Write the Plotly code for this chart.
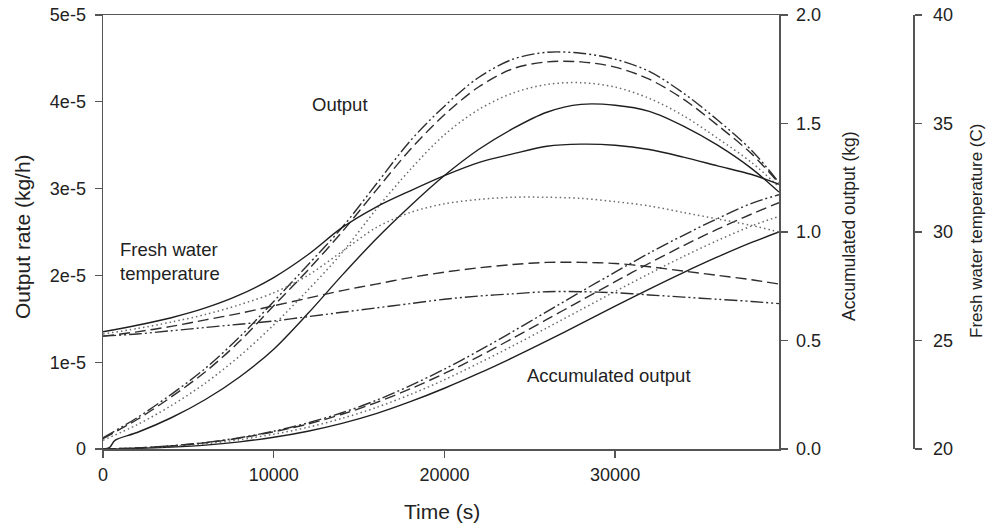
import plotly.graph_objects as go

# ---------------- data ----------------
# time grid (s)
TIME = [0, 2000, 4000, 6000, 8000, 10000, 12000, 14000, 16000, 18000, 20000,
        22000, 24000, 26000, 28000, 30000, 32000, 34000, 36000, 38000, 39600]
TIME_SOLID_OUT = [0, 400, 700, 2000, 4000, 6000, 8000, 10000, 12000, 14000, 16000, 18000,
                  20000, 22000, 24000, 26000, 28000, 30000, 32000, 34000, 36000, 38000, 39600]

# output rate, in units of 1e-5 (kg/h)
OUT_SOLID = [0.0, 0.02, 0.10, 0.19, 0.36, 0.57, 0.83, 1.15, 1.56, 2.00, 2.42, 2.80,
             3.15, 3.45, 3.69, 3.88, 3.97, 3.96, 3.89, 3.72, 3.50, 3.23, 2.96]
OUT_DOTTED = [0.10, 0.28, 0.50, 0.76, 1.07, 1.43, 1.83, 2.26, 2.76, 3.22, 3.62,
              3.91, 4.10, 4.20, 4.22, 4.17, 4.04, 3.84, 3.58, 3.30, 3.02]
OUT_DASHED = [0.12, 0.34, 0.60, 0.89, 1.24, 1.65, 2.06, 2.50, 2.98, 3.45, 3.85,
              4.17, 4.38, 4.46, 4.46, 4.40, 4.26, 4.03, 3.73, 3.40, 3.06]
OUT_DASHDOT = [0.13, 0.36, 0.63, 0.93, 1.29, 1.70, 2.12, 2.55, 3.05, 3.55, 3.95,
               4.28, 4.49, 4.57, 4.56, 4.49, 4.35, 4.10, 3.79, 3.44, 3.07]

# fresh water temperature (C)
TEMP_SOLID = [25.4, 25.7, 26.05, 26.5, 27.1, 27.9, 28.95, 30.2, 31.15, 31.9, 32.6,
              33.2, 33.6, 33.95, 34.05, 34.0, 33.8, 33.45, 33.05, 32.65, 32.2]
TEMP_DOTTED = [25.3, 25.55, 25.85, 26.2, 26.65, 27.2, 28.0, 29.1, 30.2, 30.9, 31.3,
               31.5, 31.6, 31.6, 31.55, 31.4, 31.2, 30.9, 30.6, 30.3, 30.0]
TEMP_DASHED = [25.2, 25.4, 25.65, 25.95, 26.25, 26.6, 26.95, 27.3, 27.6, 27.9, 28.15,
               28.35, 28.5, 28.6, 28.6, 28.55, 28.4, 28.2, 28.0, 27.8, 27.6]
TEMP_DASHDOT = [25.2, 25.3, 25.45, 25.6, 25.75, 25.9, 26.1, 26.3, 26.5, 26.7, 26.9,
                27.05, 27.15, 27.25, 27.25, 27.2, 27.1, 27.0, 26.9, 26.8, 26.7]

# accumulated output (kg)
ACC_SOLID = [0, 0.003, 0.009, 0.018, 0.033, 0.054, 0.082, 0.118, 0.163, 0.218, 0.28,
             0.348, 0.421, 0.498, 0.578, 0.658, 0.737, 0.813, 0.885, 0.952, 1.0]
ACC_DOTTED = [0, 0.004, 0.012, 0.024, 0.043, 0.068, 0.1, 0.141, 0.191, 0.251, 0.319,
              0.395, 0.475, 0.558, 0.642, 0.726, 0.808, 0.887, 0.961, 1.028, 1.072]
ACC_DASHED = [0, 0.005, 0.014, 0.029, 0.05, 0.079, 0.115, 0.16, 0.214, 0.277, 0.348,
              0.426, 0.51, 0.597, 0.684, 0.771, 0.856, 0.937, 1.013, 1.083, 1.135]
ACC_DASHDOT = [0, 0.005, 0.015, 0.03, 0.052, 0.082, 0.12, 0.167, 0.224, 0.292, 0.368,
               0.452, 0.541, 0.633, 0.725, 0.815, 0.903, 0.985, 1.062, 1.132, 1.172]

X_TICKS = [0, 10000, 20000, 30000]
X_LABELS = ["0", "10000", "20000", "30000"]
Y1_TICKS = [0, 1e-5, 2e-5, 3e-5, 4e-5, 5e-5]
Y1_LABELS = ["0", "1e-5", "2e-5", "3e-5", "4e-5", "5e-5"]
Y2_TICKS = [0, 0.5, 1.0, 1.5, 2.0]
Y2_LABELS = ["0.0", "0.5", "1.0", "1.5", "2.0"]
Y3_TICKS = [20, 25, 30, 35, 40]
Y3_LABELS = ["20", "25", "30", "35", "40"]
OUT_UNIT = 1e-5

# ---------------- styling ----------------
W, H = 988, 524
PL, PR, PT, PB = 103, 779, 15, 449
AX = "#555555"
FONT = "Liberation Sans, Arial, sans-serif"


def px(x):
    return x / W


def py(y):
    return 1 - y / H


STY = {
    "solid": dict(dash="solid", color="#1e1e1e", width=1.4),
    "dotted": dict(dash="1.5px,3px", color="#6a6a6a", width=1.5),
    "dashed": dict(dash="11px,5px", color="#2e2e2e", width=1.4),
    "dashdot": dict(dash="13px,3px,2px,3px,2px,3px", color="#2e2e2e", width=1.4),
}

fig = go.Figure()


def add(x, y, sty, axis):
    fig.add_trace(go.Scatter(x=x, y=y, mode="lines", yaxis=axis,
                             line=dict(shape="spline", smoothing=0.9, **STY[sty]),
                             hoverinfo="skip"))


add(TIME_SOLID_OUT, [v * OUT_UNIT for v in OUT_SOLID], "solid", "y")
add(TIME, [v * OUT_UNIT for v in OUT_DOTTED], "dotted", "y")
add(TIME, [v * OUT_UNIT for v in OUT_DASHED], "dashed", "y")
add(TIME, [v * OUT_UNIT for v in OUT_DASHDOT], "dashdot", "y")

add(TIME, TEMP_SOLID, "solid", "y3")
add(TIME, TEMP_DOTTED, "dotted", "y3")
add(TIME, TEMP_DASHED, "dashed", "y3")
add(TIME, TEMP_DASHDOT, "dashdot", "y3")

add(TIME, ACC_SOLID, "solid", "y2")
add(TIME, ACC_DOTTED, "dotted", "y2")
add(TIME, ACC_DASHED, "dashed", "y2")
add(TIME, ACC_DASHDOT, "dashdot", "y2")

ydom = [1 - PB / H, 1 - PT / H]
common = dict(showgrid=False, zeroline=False, showline=True, linecolor=AX, linewidth=1.5,
              ticks="outside", ticklen=7, tickwidth=1.3, tickcolor=AX, automargin=False,
              ticklabeloverflow="allow",
              tickfont=dict(size=18, family=FONT, color="#222"))

fig.update_layout(
    template="none",
    width=W, height=H, margin=dict(l=0, r=0, t=0, b=0, pad=0), autosize=False,
    plot_bgcolor="white", paper_bgcolor="white", showlegend=False,
    font=dict(family=FONT, color="#222"),
    xaxis=dict(domain=[PL / W, PR / W], range=[0, 39600], tickvals=X_TICKS, ticktext=X_LABELS,
               mirror=True, ticklabelstandoff=2, **common),
    yaxis=dict(domain=ydom, range=[0, 5e-5], tickvals=Y1_TICKS, ticktext=Y1_LABELS,
               ticklabelstandoff=5, **common),
    yaxis2=dict(overlaying="y", side="right", anchor="x", range=[0, 2],
                tickvals=Y2_TICKS, ticktext=Y2_LABELS, ticklabelstandoff=5, **common),
    yaxis3=dict(overlaying="y", side="right", anchor="free", position=913 / W,
                range=[20, 40], tickvals=Y3_TICKS, ticktext=Y3_LABELS,
                ticklabelstandoff=8, **common),
)

ann = [
    dict(text="Output rate (kg/h)", x=22, y=237, textangle=-90, size=21),
    dict(text="Time (s)", x=442, y=511, textangle=0, size=21),
    dict(text="Accumulated output (kg)", x=849, y=226, textangle=-90, size=17.5),
    dict(text="Fresh water temperature (C)", x=976, y=231, textangle=-90, size=17),
]
for a in ann:
    fig.add_annotation(text=a["text"], x=px(a["x"]), y=py(a["y"]), xref="paper", yref="paper",
                       xanchor="center", yanchor="middle", textangle=a["textangle"],
                       showarrow=False, font=dict(size=a["size"], family=FONT, color="#222"))

labels = [
    dict(text="Output", x=310, y=104),
    dict(text="Fresh water<br>temperature", x=118, y=261),
    dict(text="Accumulated output", x=525, y=375),
]
for a in labels:
    fig.add_annotation(text=a["text"], x=px(a["x"]), y=py(a["y"]), xref="paper", yref="paper",
                       xanchor="left", yanchor="middle", align="left", showarrow=False,
                       font=dict(size=18.5, family=FONT, color="#222"))

# remove the page's default 8px body margin so the figure fills the window exactly
fig.write_html("out.html",
               config={"displayModeBar": False, "staticPlot": True},
               post_script="document.body.style.margin='0';"
                           "document.body.style.padding='0';"
                           "document.body.style.overflow='hidden';")
